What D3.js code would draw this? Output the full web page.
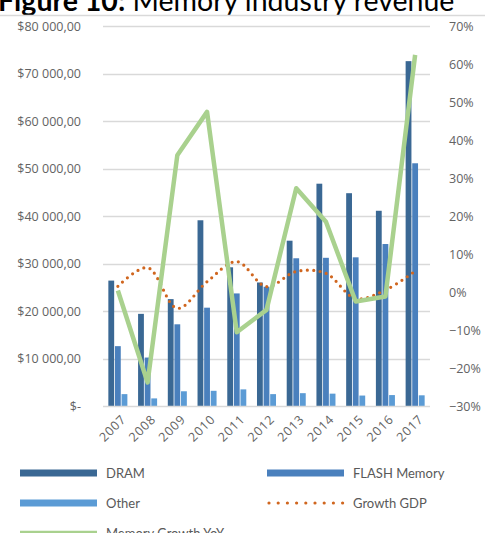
<!DOCTYPE html>
<html>
<head>
<meta charset="utf-8">
<style>
  body { margin: 0; background: #fff; }
  svg { display: block; font-family: Lato, "Open Sans", sans-serif; }
  .tick text { fill: #636363; font-family: "Open Sans", sans-serif; font-size: 12.5px; }
  .xaxis .tick text { font-size: 12.5px; letter-spacing: 0.8px; }
  .legend text { fill: #595959; font-size: 13px; }
</style>
</head>
<body>
<script src="https://d3js.org/d3.v7.min.js"></script>
<script>

// values (USD millions, growth as fraction)
var years = ["2007", "2008", "2009", "2010", "2011", "2012", "2013", "2014", "2015", "2016", "2017"];
var dram  = [26400, 19400, 22500, 39100, 29200, 26000, 34800, 46800, 44800, 41100, 72600];
var flash = [12600, 10200, 17200, 20700, 23700, 25100, 31100, 31200, 31300, 34100, 51100];
var other = [2500, 1600, 3100, 3200, 3500, 2500, 2700, 2600, 2200, 2300, 2250];
var growthGdp = [0.015, 0.064, -0.043, 0.027, 0.080, 0.014, 0.054, 0.049, -0.017, 0.005, 0.055];
var memGrowth = [0.004, -0.238, 0.36, 0.474, -0.106, -0.047, 0.273, 0.185, -0.025, -0.012, 0.624];
var leftTicks = [0, 10000, 20000, 30000, 40000, 50000, 60000, 70000, 80000];
var rightTicks = [-0.3, -0.2, -0.1, 0, 0.1, 0.2, 0.3, 0.4, 0.5, 0.6, 0.7];

var W = 485, H = 533;
var plot = {l: 103, r: 430, t: 26, b: 406};

var barKeys = ["DRAM", "FLASH Memory", "Other"];
var barCols = {"DRAM": "#3a6894", "FLASH Memory": "#4a80bd", "Other": "#5b9bd5"};
var barData = years.map(function(y, i) {
  return {year: y, vals: [dram[i], flash[i], other[i]]};
});

var svg = d3.select("body").append("svg")
    .attr("width", W)
    .attr("height", H);

// title, cut at the top like the source
var title = svg.append("text")
    .attr("x", -2)
    .attr("y", 11)
    .style("font-family", "Lato, sans-serif")
    .style("font-size", "28.5px")
    .attr("fill", "#000");
title.append("tspan").style("font-weight", "bold").text("Figure 10:");
title.append("tspan").text(" Memory industry revenue");

svg.append("line")
    .attr("x1", 0).attr("x2", W)
    .attr("y1", 15.5).attr("y2", 15.5)
    .attr("stroke", "#d9d9d9")
    .attr("stroke-width", 1.5);

var x = d3.scaleBand().domain(years).range([plot.l, plot.r]);
var gap = x.bandwidth() * 0.18;
var x1 = d3.scaleBand().domain(d3.range(3))
    .range([gap, x.bandwidth() - gap])
    .paddingInner(0.12);

var y = d3.scaleLinear().domain([0, 80000]).range([plot.b, plot.t]);
var y2 = d3.scaleLinear().domain([-0.3, 0.7]).range([plot.b, plot.t]);

function money(v) {
  if (v === 0) return "$-";
  return "$" + d3.format(",.2f")(v).replace(/,/g, " ").replace(".", ",");
}

// gridlines
svg.append("g")
  .selectAll("line")
  .data(leftTicks.slice(1))
  .join("line")
    .attr("x1", plot.l).attr("x2", plot.r)
    .attr("y1", function(d) { return Math.round(y(d)) + 0.5; })
    .attr("y2", function(d) { return Math.round(y(d)) + 0.5; })
    .attr("stroke", "#d9d9d9")
    .attr("stroke-width", 1.3);

// left axis
var yAxis = svg.append("g")
    .attr("transform", "translate(" + (plot.l - 19) + ",0)")
    .call(d3.axisLeft(y).tickValues(leftTicks).tickFormat(money).tickSize(0));
yAxis.select(".domain").remove();

// right axis
var y2Axis = svg.append("g")
    .attr("transform", "translate(" + (plot.r + 16) + ",0)")
    .call(d3.axisRight(y2).tickValues(rightTicks).tickFormat(d3.format(".0%")).tickSize(0));
y2Axis.select(".domain").remove();

// bars
svg.append("g")
  .selectAll("g")
  .data(barData)
  .join("g")
    .attr("transform", function(d) { return "translate(" + x(d.year) + ",0)"; })
  .selectAll("rect")
  .data(function(d) { return d.vals; })
  .join("rect")
    .attr("x", function(d, i) { return x1(i); })
    .attr("width", x1.bandwidth())
    .attr("y", function(d) { return y(d); })
    .attr("height", function(d) { return plot.b - y(d); })
    .attr("fill", function(d, i) { return barCols[barKeys[i]]; });

// x axis line
svg.append("line")
    .attr("x1", plot.l).attr("x2", plot.r)
    .attr("y1", plot.b + 0.5).attr("y2", plot.b + 0.5)
    .attr("stroke", "#d9d9d9")
    .attr("stroke-width", 1.3);

// x labels
var xAxis = svg.append("g")
    .attr("class", "xaxis")
    .attr("transform", "translate(0," + plot.b + ")")
    .call(d3.axisBottom(x).tickSize(0));
xAxis.select(".domain").remove();
xAxis.selectAll("text")
    .attr("text-anchor", "end")
    .attr("dx", 0)
    .attr("dy", 0)
    .attr("y", 0)
    .attr("transform", "translate(9,14) rotate(-45)");

var cx = function(i) { return x(years[i]) + x.bandwidth() / 2; };

// GDP growth, smoothed dotted
svg.append("path")
    .datum(growthGdp)
    .attr("fill", "none")
    .attr("stroke", "#d0661f")
    .attr("stroke-width", 3.2)
    .attr("stroke-linecap", "round")
    .attr("stroke-dasharray", "0 6.4")
    .attr("d", d3.line()
      .x(function(d, i) { return cx(i); })
      .y(function(d) { return y2(d); })
      .curve(d3.curveCatmullRom));

// memory growth line
svg.append("path")
    .datum(memGrowth)
    .attr("fill", "none")
    .attr("stroke", "#a9d18e")
    .attr("stroke-width", 4.5)
    .attr("stroke-linejoin", "round")
    .attr("d", d3.line()
      .x(function(d, i) { return cx(i); })
      .y(function(d) { return y2(d); }));

// legend
var legendItems = [
  {name: "DRAM", type: "bar", color: barCols["DRAM"], col: 0, row: 0},
  {name: "FLASH Memory", type: "bar", color: barCols["FLASH Memory"], col: 1, row: 0},
  {name: "Other", type: "bar", color: barCols["Other"], col: 0, row: 1},
  {name: "Growth GDP", type: "dot", color: "#d0661f", col: 1, row: 1},
  {name: "Memory Growth YoY", type: "line", color: "#a9d18e", col: 0, row: 2}
];
var colX = [20, 267], rowY = [473, 503, 533];

var lg = svg.append("g").attr("class", "legend")
  .selectAll("g")
  .data(legendItems)
  .join("g")
    .attr("transform", function(d) { return "translate(" + colX[d.col] + "," + rowY[d.row] + ")"; });

lg.filter(function(d) { return d.type === "bar"; })
  .append("rect")
    .attr("x", 0).attr("y", -3.5)
    .attr("width", 77).attr("height", 7)
    .attr("fill", function(d) { return d.color; });

lg.filter(function(d) { return d.type === "dot"; })
  .append("line")
    .attr("x1", 2).attr("x2", 76)
    .attr("stroke", function(d) { return d.color; })
    .attr("stroke-width", 3.2)
    .attr("stroke-linecap", "round")
    .attr("stroke-dasharray", "0 9.2");

lg.filter(function(d) { return d.type === "line"; })
  .append("line")
    .attr("x1", 0).attr("x2", 77)
    .attr("stroke", function(d) { return d.color; })
    .attr("stroke-width", 4.5);

lg.append("text")
    .attr("x", 86)
    .attr("dy", "0.35em")
    .text(function(d) { return d.name; });

</script>
</body>
</html>
